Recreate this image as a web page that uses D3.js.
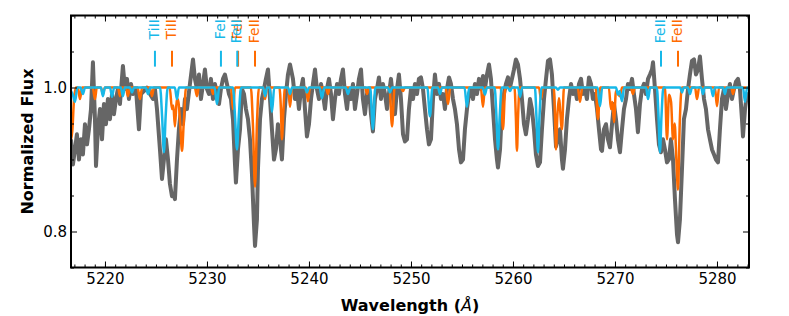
<!DOCTYPE html>
<html>
<head>
<meta charset="utf-8">
<script src="https://cdn.jsdelivr.net/npm/d3@7"></script>
<style>
body { margin: 0; background: #fff; }
text { font-family: "DejaVu Sans", sans-serif; }
</style>
</head>
<body>
<script>
// observed spectrum, [wavelength (A), normalized flux]
const observed = [
 [5216.67,0.928],[5216.86,0.893],[5217.06,0.914],[5217.25,0.935],[5217.45,0.900],[5217.65,0.928],[5217.84,0.907],
 [5218.04,0.949],[5218.24,0.921],[5218.43,0.942],[5218.63,0.970],[5218.82,1.035],[5219.02,0.956],[5219.12,0.891],
 [5219.31,0.942],[5219.51,0.970],[5219.71,0.928],[5219.90,0.977],[5220.10,0.949],[5220.29,0.984],[5220.49,0.956],
 [5220.69,0.991],[5220.88,0.963],[5221.08,0.984],[5221.27,0.998],[5221.47,0.977],[5221.76,1.030],[5221.96,0.998],
 [5222.16,1.012],[5222.35,0.984],[5222.55,1.005],[5222.75,0.991],[5223.04,0.998],[5223.33,0.942],[5223.53,0.991],
 [5223.82,0.995],[5224.12,1.000],[5224.41,0.991],[5224.71,0.984],[5224.90,0.998],[5225.10,0.970],[5225.39,0.914],
 [5225.59,0.873],[5225.78,0.900],[5225.98,0.928],[5226.18,0.900],[5226.37,0.866],[5226.57,0.849],[5226.76,0.852],
 [5226.86,0.845],[5227.06,0.900],[5227.25,0.942],[5227.45,0.970],[5227.65,0.949],[5227.84,0.984],[5228.04,0.970],
 [5228.33,1.005],[5228.63,1.039],[5228.82,1.012],[5229.02,0.998],[5229.22,1.018],[5229.41,0.984],[5229.61,1.005],
 [5229.80,1.025],[5230.00,0.998],[5230.20,0.991],[5230.39,1.012],[5230.59,0.984],[5230.78,1.005],[5230.98,0.991],
 [5231.18,0.977],[5231.37,0.998],[5231.57,1.012],[5231.76,1.018],[5231.96,1.005],[5232.16,0.991],[5232.35,0.984],
 [5232.55,0.956],[5232.75,0.893],[5232.84,0.868],[5233.04,0.914],[5233.24,0.942],[5233.43,0.998],[5233.63,0.991],
 [5233.82,0.970],[5234.02,0.956],[5234.22,0.928],[5234.41,0.880],[5234.61,0.810],[5234.71,0.780],[5234.90,0.817],
 [5235.00,0.887],[5235.20,0.956],[5235.39,0.984],[5235.59,0.998],[5235.78,1.012],[5235.98,1.025],[5236.18,0.984],
 [5236.37,0.942],[5236.57,0.900],[5236.76,0.914],[5236.96,0.949],[5237.16,0.928],[5237.35,0.900],[5237.55,0.956],
 [5237.75,0.991],[5237.94,1.018],[5238.14,1.032],[5238.43,1.012],[5238.63,0.984],[5238.82,0.998],[5239.02,0.970],
 [5239.22,0.998],[5239.41,1.012],[5239.61,0.970],[5239.80,0.932],[5240.00,0.949],[5240.20,0.984],[5240.39,1.005],
 [5240.59,1.025],[5240.78,0.998],[5240.98,0.984],[5241.18,1.005],[5241.37,0.991],[5241.57,0.970],[5241.76,0.998],
 [5241.96,1.012],[5242.16,0.991],[5242.35,0.956],[5242.55,0.984],[5242.75,1.005],[5242.94,0.991],[5243.14,1.012],
 [5243.33,1.025],[5243.53,0.991],[5243.73,0.970],[5243.92,0.998],[5244.12,0.984],[5244.31,1.005],[5244.51,0.970],
 [5244.71,0.991],[5244.90,1.012],[5245.10,1.025],[5245.29,0.984],[5245.49,0.963],[5245.69,0.991],[5245.88,0.998],
 [5246.08,0.963],[5246.27,0.939],[5246.47,0.984],[5246.67,0.998],[5246.86,1.014],[5247.06,0.984],[5247.25,1.005],
 [5247.45,0.991],[5247.65,0.970],[5247.84,0.991],[5248.04,1.012],[5248.24,0.984],[5248.43,0.963],[5248.63,0.998],
 [5248.82,1.018],[5249.02,0.984],[5249.22,0.935],[5249.41,0.925],[5249.61,0.928],[5249.80,0.970],[5250.00,0.998],
 [5250.20,0.984],[5250.39,1.005],[5250.59,0.991],[5250.78,1.012],[5250.98,1.014],[5251.18,0.998],[5251.37,0.970],
 [5251.57,0.942],[5251.76,0.921],[5251.96,0.928],[5252.16,0.984],[5252.35,1.018],[5252.55,0.991],[5252.75,1.005],
 [5252.94,0.984],[5253.14,0.991],[5253.33,0.970],[5253.53,0.998],[5253.73,1.014],[5253.92,1.005],[5254.12,0.984],
 [5254.31,0.970],[5254.51,0.949],[5254.71,0.914],[5254.90,0.896],[5255.10,0.900],[5255.29,0.942],[5255.49,0.970],
 [5255.69,0.991],[5255.88,0.998],[5256.08,0.984],[5256.27,1.005],[5256.47,0.991],[5256.67,1.012],[5256.86,0.998],
 [5257.06,1.016],[5257.25,0.998],[5257.45,1.018],[5257.65,1.032],[5257.84,1.012],[5258.04,0.970],[5258.24,0.928],
 [5258.43,0.900],[5258.53,0.889],[5258.73,0.914],[5258.92,0.970],[5259.12,0.991],[5259.31,1.005],[5259.51,1.014],
 [5259.71,1.000],[5259.90,1.012],[5260.10,1.025],[5260.29,1.039],[5260.49,1.032],[5260.69,1.012],[5260.88,0.984],
 [5261.08,0.949],[5261.27,0.935],[5261.47,0.956],[5261.67,0.984],[5261.86,0.970],[5262.06,0.942],[5262.25,0.907],
 [5262.45,0.891],[5262.65,0.896],[5262.84,0.942],[5263.04,0.984],[5263.24,1.012],[5263.43,1.037],[5263.63,1.039],
 [5263.82,1.018],[5264.02,0.970],[5264.22,0.918],[5264.41,0.928],[5264.61,0.942],[5264.80,0.900],[5264.90,0.887],
 [5265.10,0.914],[5265.29,0.956],[5265.49,0.984],[5265.69,1.005],[5265.88,0.991],[5266.08,0.998],[5266.27,0.984],
 [5266.47,1.005],[5266.67,1.012],[5266.86,0.991],[5267.06,0.998],[5267.25,0.984],[5267.45,1.014],[5267.65,1.005],
 [5267.84,0.984],[5268.04,0.991],[5268.24,0.970],[5268.43,0.942],[5268.63,0.914],[5268.73,0.912],[5268.92,0.942],
 [5269.12,0.949],[5269.31,0.928],[5269.51,0.917],[5269.71,0.949],[5269.90,0.977],[5270.10,0.956],[5270.29,0.928],
 [5270.49,0.910],[5270.69,0.942],[5270.88,0.970],[5271.08,0.984],[5271.27,1.005],[5271.47,0.998],[5271.67,1.012],
 [5271.86,0.991],[5272.06,0.970],[5272.25,0.938],[5272.45,0.977],[5272.65,0.998],[5272.84,1.005],[5273.04,0.991],
 [5273.24,1.012],[5273.43,1.018],[5273.63,1.025],[5273.73,1.035],[5273.92,0.998],[5274.12,0.956],[5274.31,0.921],
 [5274.51,0.910],[5274.71,0.928],[5274.90,0.914],[5275.10,0.896],[5275.29,0.900],[5275.49,0.928],[5275.69,0.900],
 [5275.88,0.845],[5276.08,0.796],[5276.18,0.785],[5276.37,0.817],[5276.57,0.887],[5276.76,0.956],[5276.96,0.970],
 [5277.16,0.998],[5277.35,1.018],[5277.55,1.037],[5277.75,1.039],[5277.94,1.018],[5278.14,1.025],[5278.33,1.043],
 [5278.53,1.012],[5278.73,0.984],[5278.92,0.970],[5279.12,0.942],[5279.31,0.928],[5279.51,0.914],[5279.71,0.907],
 [5279.90,0.900],[5280.10,0.896],[5280.29,0.942],[5280.49,0.984],[5280.69,0.998],[5280.88,0.970],[5281.08,0.991],
 [5281.27,1.005],[5281.47,0.984],[5281.67,0.998],[5281.86,1.008],[5282.06,1.012],[5282.25,0.998],[5282.45,0.956],
 [5282.55,0.932],[5282.75,0.970],[5282.94,0.991],[5283.14,0.984]
];

// shifted model (blue)
const modelBlue = [
 [5216.67,0.995],[5216.85,0.990],[5217.06,0.980],[5217.30,1.0],[5217.60,1.0],[5217.84,0.991],[5218.05,1.0],
 [5219.60,1.0],[5219.80,0.988],[5220.00,1.0],[5220.50,1.0],[5220.69,0.987],[5220.90,1.0],
 [5221.55,1.0],[5221.76,0.988],[5221.95,1.0],[5222.45,1.0],[5222.65,0.993],[5222.85,1.0],
 [5224.00,1.0],[5224.22,0.991],[5224.45,1.0],
 [5225.40,1.0],[5225.60,0.960],[5225.78,0.910],[5225.95,0.960],[5226.15,1.0],
 [5226.85,1.0],[5227.06,0.984],[5227.25,1.0],[5230.75,1.0],[5230.98,0.977],[5231.20,1.0],
 [5232.55,1.0],[5232.75,0.960],[5232.94,0.914],[5233.12,0.960],[5233.35,1.0],
 [5235.50,1.0],[5235.69,0.988],[5235.90,1.0],[5236.15,1.0],[5236.37,0.966],[5236.60,1.0],
 [5237.95,1.0],[5238.14,0.991],[5238.35,1.0],[5239.60,1.0],[5239.80,0.993],[5240.00,1.0],
 [5241.05,1.0],[5241.27,0.985],[5241.50,1.0],[5243.60,1.0],[5243.82,0.991],[5244.05,1.0],
 [5246.00,1.0],[5246.27,0.942],[5246.50,1.0],[5247.75,1.0],[5247.94,0.993],[5248.15,1.0],
 [5251.60,1.0],[5251.86,0.960],[5252.10,1.0],[5252.65,1.0],[5252.84,0.991],[5253.05,1.0],
 [5255.25,1.0],[5255.49,0.973],[5255.70,1.0],[5257.05,1.0],[5257.25,0.990],[5257.45,1.0],
 [5258.20,1.0],[5258.38,0.960],[5258.53,0.914],[5258.70,0.960],[5258.90,1.0],
 [5259.50,1.0],[5259.71,0.995],[5259.90,1.0],[5260.50,1.0],[5260.69,0.987],[5260.90,1.0],
 [5262.15,1.0],[5262.30,0.960],[5262.45,0.910],[5262.60,0.960],[5262.80,1.0],
 [5264.20,1.0],[5264.41,0.997],[5264.60,1.0],[5268.30,1.0],[5268.53,0.974],[5268.75,1.0],
 [5270.10,1.0],[5270.29,0.990],[5270.45,0.995],[5270.69,0.981],[5270.90,1.0],
 [5273.05,1.0],[5273.24,0.984],[5273.45,1.0],
 [5274.10,1.0],[5274.27,0.960],[5274.41,0.910],[5274.56,0.960],[5274.75,1.0],
 [5276.40,1.0],[5276.57,0.993],[5276.75,1.0],[5277.15,1.0],[5277.35,0.991],[5277.55,1.0],
 [5278.45,1.0],[5278.63,0.991],[5278.80,1.0],[5279.40,1.0],[5279.61,0.988],[5279.80,1.0],
 [5280.60,1.0],[5280.78,0.991],[5280.95,1.0],[5282.55,1.0],[5282.75,0.980],[5282.95,1.0],[5283.14,1.0]
];

// rest-frame model (orange)
const modelOrange = [
 [5216.67,0.928],[5216.80,0.940],[5216.95,0.980],[5217.15,1.0],[5217.35,1.0],[5217.55,0.984],[5217.75,1.0],
 [5218.80,1.0],[5219.02,0.984],[5219.20,1.0],[5219.60,1.0],[5219.80,0.991],[5220.00,1.0],
 [5221.27,1.0],[5221.47,0.988],[5221.65,1.0],[5222.05,1.0],[5222.25,0.988],[5222.45,1.0],
 [5223.20,1.0],[5223.43,0.984],[5223.65,1.0],[5224.40,1.0],[5224.61,0.988],[5224.80,1.0],
 [5226.35,1.0],[5226.57,0.970],[5226.70,0.975],[5226.86,0.946],[5227.05,0.985],[5227.20,0.980],
 [5227.38,0.950],[5227.55,0.912],[5227.72,0.950],[5227.95,1.0],
 [5228.80,1.0],[5229.02,0.988],[5229.20,1.0],[5230.40,1.0],[5230.59,0.991],[5230.80,1.0],
 [5232.35,1.0],[5232.55,0.970],[5232.75,1.0],
 [5234.30,1.0],[5234.50,0.950],[5234.71,0.862],[5234.90,0.950],[5235.10,1.0],
 [5235.50,1.0],[5235.69,0.984],[5235.90,1.0],
 [5237.10,1.0],[5237.25,0.970],[5237.35,0.928],[5237.50,0.970],[5237.65,1.0],
 [5237.95,1.0],[5238.14,0.973],[5238.35,1.0],[5239.70,1.0],[5239.90,0.981],[5240.10,1.0],
 [5241.65,1.0],[5241.86,0.991],[5242.05,1.0],[5245.50,1.0],[5245.69,0.991],[5245.90,1.0],
 [5247.90,1.0],[5248.14,0.946],[5248.40,1.0],[5249.00,1.0],[5249.22,0.995],[5249.40,1.0],
 [5253.40,1.0],[5253.63,0.977],[5253.85,1.0],[5256.85,1.0],[5257.06,0.973],[5257.25,1.0],
 [5258.80,1.0],[5259.02,0.942],[5259.25,1.0],
 [5260.15,1.0],[5260.28,0.960],[5260.39,0.912],[5260.50,0.960],[5260.65,1.0],
 [5262.55,1.0],[5262.75,0.984],[5262.95,1.0],
 [5264.00,1.0],[5264.12,0.960],[5264.22,0.914],[5264.35,0.960],[5264.50,0.985],[5264.80,0.942],[5265.00,1.0],
 [5266.35,1.0],[5266.57,0.980],[5266.80,1.0],[5268.10,1.0],[5268.33,0.956],[5268.55,1.0],
 [5269.40,1.0],[5269.61,0.970],[5269.75,0.980],[5269.90,0.952],[5270.10,0.995],[5270.49,0.988],[5270.70,1.0],
 [5271.55,1.0],[5271.76,0.991],[5271.95,1.0],
 [5274.90,1.0],[5275.10,0.928],[5275.30,0.990],[5275.50,0.980],[5275.69,0.928],[5275.85,0.950],
 [5276.02,0.900],[5276.18,0.858],[5276.35,0.950],[5276.55,1.0],
 [5277.85,1.0],[5278.04,0.984],[5278.25,1.0],[5279.80,1.0],[5280.00,0.974],[5280.20,1.0],
 [5281.40,1.0],[5281.57,0.991],[5281.75,1.0],[5283.14,1.0]
];

const blueLineWaves = [5224.90, 5231.37, 5232.97, 5274.51];
const blueLineNames = ["TiII", "FeI", "FeII", "FeII"];
const orangeLineWaves = [5226.57, 5233.05, 5234.71, 5276.18];
const orangeLineNames = ["TiII", "FeI", "FeII", "FeII"];

const xMajorTicks = [5220, 5230, 5240, 5250, 5260, 5270, 5280];
const xMinorTicks = d3.range(5217, 5284, 1);
const yMajorTicks = [0.8, 1.0];
const yMinorTicks = [0.75, 0.85, 0.9, 0.95, 1.05, 1.1];

const W = 789, H = 316;
const m = {left: 71, right: 40, top: 15.5, bottom: 48.5};
const blue = "#17b8e8", orange = "#ff6b00", grey = "#666666";

const svg = d3.select("body").append("svg")
    .attr("width", W)
    .attr("height", H);

const x = d3.scaleLinear().domain([5216.67, 5283.14]).range([m.left, W - m.right]);
const y = d3.scaleLinear().domain([0.75, 1.1]).range([H - m.bottom, m.top]);

svg.append("clipPath").attr("id", "plot")
  .append("rect")
    .attr("x", m.left).attr("y", m.top)
    .attr("width", W - m.left - m.right)
    .attr("height", H - m.top - m.bottom);

const line = d3.line().x(d => x(d[0])).y(d => y(d[1]));
const smooth = d3.line().x(d => x(d[0])).y(d => y(d[1])).curve(d3.curveMonotoneX);

const g = svg.append("g").attr("clip-path", "url(#plot)");
g.append("path").datum(observed)
    .attr("d", line).attr("fill", "none")
    .attr("stroke", grey).attr("stroke-width", 4).attr("stroke-linejoin", "round");
g.append("path").datum(modelOrange)
    .attr("d", smooth).attr("fill", "none")
    .attr("stroke", orange).attr("stroke-width", 2.5).attr("stroke-linejoin", "round");
g.append("path").datum(modelBlue)
    .attr("d", smooth).attr("fill", "none")
    .attr("stroke", blue).attr("stroke-width", 2.5).attr("stroke-linejoin", "round");

// line identifications
function marks(waves, names, col) {
    waves.forEach((w, i) => {
        svg.append("line")
            .attr("x1", x(w)).attr("x2", x(w))
            .attr("y1", y(1.029)).attr("y2", y(1.051))
            .attr("stroke", col).attr("stroke-width", 2);
        svg.append("text")
            .attr("transform", `translate(${x(w) - 1},${y(1.095)}) rotate(-90)`)
            .attr("text-anchor", "end")
            .attr("dy", "0.35em")
            .attr("font-size", 14)
            .attr("fill", col)
            .text(names[i]);
    });
}
marks(orangeLineWaves, orangeLineNames, orange);
marks(blueLineWaves, blueLineNames, blue);

// axes, ticks pointing inward
const bottom = H - m.bottom, right = W - m.right;
svg.append("g").attr("transform", `translate(0,${bottom})`)
    .call(d3.axisBottom(x).tickValues(xMinorTicks).tickSize(-3).tickFormat(""));
svg.append("g").attr("transform", `translate(0,${bottom})`)
    .call(d3.axisBottom(x).tickValues(xMajorTicks).tickSize(-6).tickPadding(6).tickFormat(d3.format("d")));
svg.append("g").attr("transform", `translate(0,${m.top})`)
    .call(d3.axisTop(x).tickValues(xMinorTicks).tickSize(-3).tickFormat(""));
svg.append("g").attr("transform", `translate(0,${m.top})`)
    .call(d3.axisTop(x).tickValues(xMajorTicks).tickSize(-6).tickFormat(""));
svg.append("g").attr("transform", `translate(${m.left},0)`)
    .call(d3.axisLeft(y).tickValues(yMinorTicks).tickSize(-3).tickFormat(""));
svg.append("g").attr("transform", `translate(${m.left},0)`)
    .call(d3.axisLeft(y).tickValues(yMajorTicks).tickSize(-6).tickPadding(4).tickFormat(d3.format(".1f")));
svg.append("g").attr("transform", `translate(${right},0)`)
    .call(d3.axisRight(y).tickValues(yMinorTicks).tickSize(-3).tickFormat(""));
svg.append("g").attr("transform", `translate(${right},0)`)
    .call(d3.axisRight(y).tickValues(yMajorTicks).tickSize(-6).tickFormat(""));

svg.selectAll(".domain").remove();
svg.selectAll(".tick line").attr("stroke", "#000").attr("stroke-width", 1);
svg.selectAll(".tick text")
    .attr("font-family", "DejaVu Sans")
    .attr("font-size", 15)
    .attr("fill", "#000");

svg.append("rect")
    .attr("x", m.left).attr("y", m.top)
    .attr("width", right - m.left).attr("height", bottom - m.top)
    .attr("fill", "none").attr("stroke", "#000").attr("stroke-width", 2);

const xl = svg.append("text")
    .attr("x", (m.left + right) / 2).attr("y", 311)
    .attr("text-anchor", "middle")
    .attr("font-size", 16).attr("font-weight", "bold");
xl.append("tspan").text("Wavelength (");
xl.append("tspan").attr("font-style", "italic").attr("font-weight", "normal").text("Å");
xl.append("tspan").text(")");

svg.append("text")
    .attr("transform", `translate(33,${(m.top + bottom) / 2}) rotate(-90)`)
    .attr("text-anchor", "middle")
    .attr("font-size", 16).attr("font-weight", "bold")
    .text("Normalized Flux");
</script>
</body>
</html>
